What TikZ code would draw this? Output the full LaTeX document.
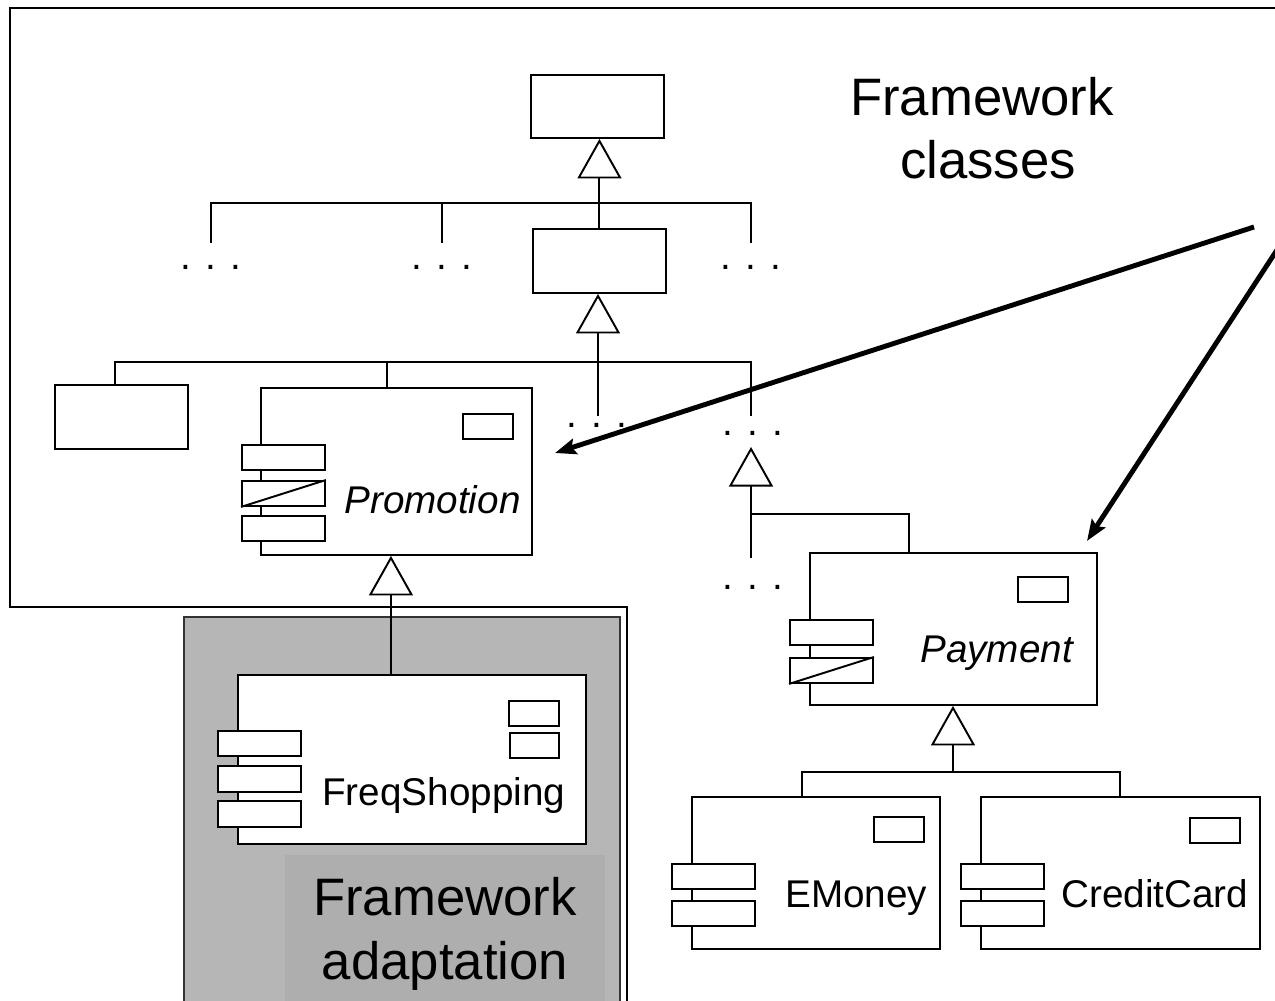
\documentclass[tikz,border=0pt]{standalone}
\usepackage{fontspec}
\setmainfont{Liberation Sans}
\usepackage{tikz}
\usetikzlibrary{positioning}
\usetikzlibrary{arrows.meta}
\definecolor{adapt}{RGB}{182,182,182}
\definecolor{adaptlabel}{RGB}{174,174,174}

\begin{document}
\begin{tikzpicture}[x=0.02cm, y=-0.02cm]
	\tikzstyle{wire}=[line width=1.1pt]
	\tikzstyle{cls}=[draw=black, fill=white, line width=1.1pt, inner sep=0pt, anchor=north west]
	\tikzstyle{port}=[cls, minimum width=1.66cm, minimum height=0.5cm]
	\tikzstyle{tag}=[cls, minimum width=1.0cm, minimum height=0.5cm]
	\tikzstyle{inh}=[wire, -{Triangle[open, length=22.5pt, width=25pt]}]
	\tikzstyle{pointer}=[line width=2.8pt, -{Stealth[length=12pt, width=9pt, inset=2pt]}]
	\tikzstyle{clsname}=[inner sep=0pt, anchor=base west, font=\fontsize{22}{26}\selectfont]
	\tikzstyle{ellip}=[inner sep=0pt, anchor=base, font=\fontsize{22}{26}\selectfont]
	\tikzstyle{bigtext}=[inner sep=0pt, anchor=base, font=\fontsize{30}{36}\selectfont]
	
	\useasboundingbox (0,0) rectangle (1275,1001);
	\clip (0,0) rectangle (1275,1001);
	
	% framework classes area and adaptation area
	\draw[wire] (1290,8) -- (10,8) -- (10,607) -- (627,607) -- (627,1010);
	\draw[draw=black!80, line width=0.6pt, fill=adapt] (184,617) rectangle (620,1010);
	\fill[adaptlabel] (285,855) rectangle (605,1010);
	
	\draw node at (982,115) [bigtext] (fc1) {Framework};
	\draw node at (988,178) [bigtext] (fc2) {classes};
	\draw node at (445,915) [bigtext] (fa1) {Framework};
	\draw node at (445,979) [bigtext] (fa2) {adaptation};
	
	% upper hierarchy
	\draw node at (530,74) [cls, minimum width=2.66cm, minimum height=1.26cm] (root) {};
	\draw node at (532,228) [cls, minimum width=2.66cm, minimum height=1.28cm] (base) {};
	\draw node at (54,384) [cls, minimum width=2.66cm, minimum height=1.28cm] (leaf) {};
	
	\coordinate (bus1) at (598,203);
	\coordinate (d1) at (211,243);
	\coordinate (d2) at (442,243);
	\coordinate (d3) at (751,243);
	\draw[inh] (base.north) -- (base.north |- root.south);
	\draw[wire] (d1) |- (bus1) -| (d3);
	\draw[wire] (d2) -- (d2 |- bus1);
	\draw node at (211,269) [ellip] (e1) {. . .};
	\draw node at (442,269) [ellip] (e2) {. . .};
	\draw node at (751,269) [ellip] (e3) {. . .};
	
	% Promotion
	\draw node at (260,387) [cls, minimum width=5.42cm, minimum height=3.34cm] (promo) {};
	\draw node at (462,413) [tag] (promo-t) {};
	\draw node at (241,444) [port] (promo-p1) {};
	\draw node at (241,480) [port] (promo-p2) {};
	\draw node at (241,515) [port] (promo-p3) {};
	\draw[wire] (promo-p2.south west) -- (promo-p2.north east);
	\draw node at (344,513) [clsname] (promo-n) {\itshape Promotion};
	
	\coordinate (bus2) at (598,362);
	\coordinate (d4) at (598,416);
	\coordinate (d5) at (751,416);
	\draw[inh] (d4) -- (d4 |- base.south);
	\draw[wire] ([xshift=-0.13cm]leaf.north) |- (bus2) -| (d5);
	\draw[wire] ([xshift=-0.19cm]promo.north) -- ([xshift=-0.19cm]promo.north |- bus2);
	\draw node at (597,427) [ellip] (e4) {. . .};
	\draw node at (753,435) [ellip] (e5) {. . .};
	
	% FreqShopping
	\draw node at (237,674) [cls, minimum width=6.96cm, minimum height=3.38cm] (freq) {};
	\draw node at (508,700) [tag] (freq-t1) {};
	\draw node at (509,732) [tag, minimum width=0.98cm] (freq-t2) {};
	\draw node at (217,730) [port] (freq-p1) {};
	\draw node at (217,765) [port, minimum height=0.52cm] (freq-p2) {};
	\draw node at (217,800) [port, minimum height=0.52cm] (freq-p3) {};
	\draw node at (322,805) [clsname] (freq-n) {FreqShopping};
	\draw[inh] ([xshift=-0.42cm]freq.north) -- ([xshift=-0.42cm]freq.north |- promo.south);
	
	% Payment
	\draw node at (809,552) [cls, minimum width=5.74cm, minimum height=3.04cm] (pay) {};
	\draw node at (1017,576) [tag] (pay-t) {};
	\draw node at (789,619) [port] (pay-p1) {};
	\draw node at (789,657) [port] (pay-p2) {};
	\draw[wire] (pay-p2.south west) -- (pay-p2.north east);
	\draw node at (920,662) [clsname] (pay-n) {\itshape Payment};
	
	\coordinate (d6) at (751,447);
	\coordinate (d7) at (751,558);
	\coordinate (br) at (751,514);
	\draw[inh] (d7) -- (d6);
	\draw[wire] ([xshift=-0.89cm]pay.north) |- (br);
	\draw node at (753,589) [ellip] (e6) {. . .};
	
	% EMoney and CreditCard
	\draw node at (691,796) [cls, minimum width=4.96cm, minimum height=3.04cm] (emoney) {};
	\draw node at (873,816) [tag] (emoney-t) {};
	\draw node at (671,863) [port] (emoney-p1) {};
	\draw node at (671,900) [port] (emoney-p2) {};
	\draw node at (785,907) [clsname] (emoney-n) {EMoney};
	
	\draw node at (980,796) [cls, minimum width=5.58cm, minimum height=3.04cm] (credit) {};
	\draw node at (1189,817) [tag] (credit-t) {};
	\draw node at (960,863) [port] (credit-p1) {};
	\draw node at (960,900) [port] (credit-p2) {};
	\draw node at (1061,907) [clsname] (credit-n) {CreditCard};
	
	\coordinate (bus3) at (953,772);
	\draw[inh] (bus3) -- (bus3 |- pay.south);
	\draw[wire] ([xshift=-0.28cm]emoney.north) |- (bus3) -| (credit.north);
	
	% pointers to the hot spots
	\coordinate (src1) at (1254,227);
	\coordinate (src2) at (1290,230);
	\coordinate (tip1) at (555,453);
	\coordinate (tip2) at (1087,541);
	\draw[pointer] (src1) -- (tip1);
	\draw[pointer] (src2) -- (tip2);
\end{tikzpicture}
\end{document}
